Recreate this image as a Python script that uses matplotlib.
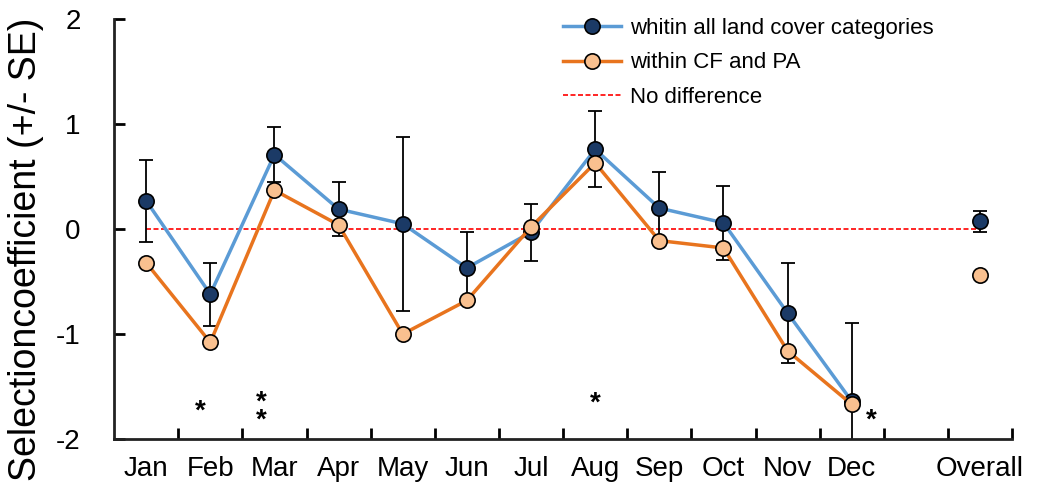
import numpy as np
import matplotlib
matplotlib.use("Agg")
import matplotlib.pyplot as plt

plt.rcParams["font.family"] = ["Liberation Sans", "DejaVu Sans"]

# -------------------------------
# Data
# -------------------------------
months = ["Jan", "Feb", "Mar", "Apr", "May", "Jun", "Jul", "Aug", "Sep", "Oct", "Nov", "Dec"]
overall_label = "Overall"

all_land = [0.27, -0.62, 0.71, 0.19, 0.05, -0.37, -0.03, 0.76, 0.20, 0.06, -0.80, -1.64]
all_land_se = [0.39, 0.30, 0.26, 0.26, 0.83, 0.34, 0.27, 0.36, 0.34, 0.35, 0.48, 0.75]
cf_pa = [-0.32, -1.08, 0.37, 0.04, -1.00, -0.68, 0.02, 0.63, -0.11, -0.18, -1.16, -1.67]

overall_all = 0.075
overall_all_se = 0.10
overall_cf = -0.44

# significance stars: (x position, y value, text)
star_x = [0.85, 1.8, 7.0, 11.3]
star_y = [-1.74, -1.74, -1.66, -1.82]
star_txt = ["*", "*\n*", "*", "*"]

# -------------------------------
# Plot
# -------------------------------
blue_line = "#5B9BD5"
navy = "#1B3A66"
orange_line = "#E8741E"
peach = "#F9C08F"

fig = plt.figure(figsize=(10.37, 4.9), dpi=100)
ax = fig.add_axes([0.110, 0.104, 0.866, 0.857])

x = np.arange(len(months))
x_overall = 13

ax.plot([0, x_overall], [0, 0], color="red", linestyle=(0, (3, 1.5)), linewidth=1.2,
        zorder=1, label="No difference")

ax.errorbar(x, all_land, yerr=all_land_se, fmt="none", ecolor="black",
            elinewidth=1.3, capsize=5, capthick=1.3, zorder=2)
ax.errorbar([x_overall], [overall_all], yerr=[overall_all_se], fmt="none", ecolor="black",
            elinewidth=1.3, capsize=5, capthick=1.3, zorder=2)

ax.plot(x, all_land, color=blue_line, linewidth=2.5, marker="o", markersize=11,
        markerfacecolor=navy, markeredgecolor="black", markeredgewidth=1.2,
        zorder=3, label="whitin all land cover categories")
ax.plot(x, cf_pa, color=orange_line, linewidth=2.5, marker="o", markersize=11,
        markerfacecolor=peach, markeredgecolor="black", markeredgewidth=1.2,
        zorder=4, label="within CF and PA")
ax.plot([x_overall], [overall_all], linestyle="none", marker="o", markersize=11,
        markerfacecolor=navy, markeredgecolor="black", markeredgewidth=1.2, zorder=3)
ax.plot([x_overall], [overall_cf], linestyle="none", marker="o", markersize=11,
        markerfacecolor=peach, markeredgecolor="black", markeredgewidth=1.2, zorder=4)

for sx, sy, st in zip(star_x, star_y, star_txt):
    ax.text(sx, sy, st, ha="center", va="center", fontsize=20, fontweight="bold",
            linespacing=0.6)

# axes styling
ax.set_xlim(-0.5, 13.5)
ax.set_ylim(-2, 2)
ax.set_yticks([-2, -1, 0, 1, 2])
ax.set_yticklabels(["-2", "-1", "0", "1", "2"])
ax.set_xticks(list(x) + [x_overall])
ax.set_xticklabels(months + [overall_label])
ax.set_xticks(np.arange(0.5, 14, 1.0), minor=True)
ax.tick_params(axis="x", which="major", length=0, labelsize=20, pad=12)
ax.tick_params(axis="x", which="minor", direction="in", length=8, width=2)
ax.tick_params(axis="y", direction="in", length=8, width=2, labelsize=20, pad=24)

for side in ["top", "right"]:
    ax.spines[side].set_visible(False)
for side in ["left", "bottom"]:
    ax.spines[side].set_linewidth(2)
    ax.spines[side].set_color("#222222")

ax.set_ylabel("Selectioncoefficient (+/- SE)", fontsize=27, va="center")
ax.yaxis.set_label_coords(-0.098, 0.452)

handles, labels = ax.get_legend_handles_labels()
order = [1, 2, 0]
ax.legend([handles[i] for i in order], [labels[i] for i in order],
          loc="upper left", bbox_to_anchor=(0.478, 1.05), frameon=False,
          fontsize=16, handlelength=2.6, labelspacing=0.6, handletextpad=0.4)

plt.savefig("out.png", dpi=100)
